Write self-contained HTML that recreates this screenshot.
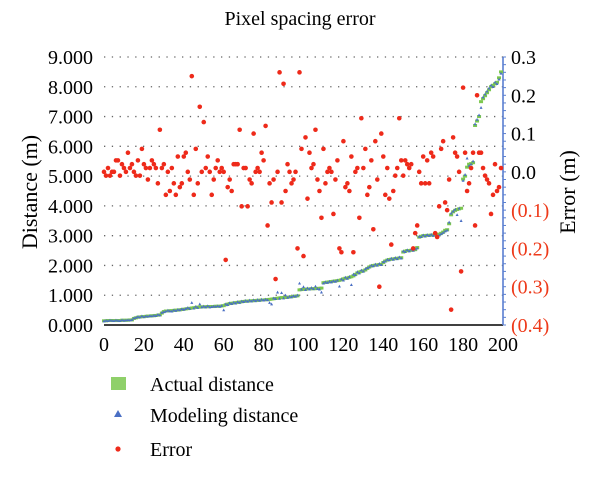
<!DOCTYPE html>
<html><head><meta charset="utf-8">
<style>
body{margin:0;background:#fff;}
svg text{font-family:"Liberation Serif",serif;}
</style></head>
<body>
<svg id="chart" width="600" height="478" viewBox="0 0 600 478" xmlns="http://www.w3.org/2000/svg">
<text x="300" y="25" font-size="20" text-anchor="middle">Pixel spacing error</text>
<text x="0" y="0" font-size="22" text-anchor="middle" transform="translate(37,192) rotate(-90)">Distance (m)</text>
<text x="0" y="0" font-size="22" text-anchor="middle" transform="translate(575,192) rotate(-90)">Error (m)</text>
<g id="grid"></g><g id="axes"></g><g id="marks"></g>
<g>
<rect x="111" y="377" width="15" height="13" fill="#8fd06a"/>
<text x="150" y="391" font-size="20">Actual distance</text>
<path d="M118 410 L122 417 L114 417 Z" fill="#4a6fc4"/>
<text x="150" y="422" font-size="20">Modeling distance</text>
<circle cx="118" cy="449" r="2.6" fill="#ee2a1a"/>
<text x="150" y="456" font-size="20">Error</text>
</g>
</svg>
<script>
const xTicks=[0,20,40,60,80,100,120,140,160,180,200];
const yTicks=[0,1,2,3,4,5,6,7,8,9];
const yTickLabels=["0.000","1.000","2.000","3.000","4.000","5.000","6.000","7.000","8.000","9.000"];
const y2Ticks=[0.3,0.2,0.1,0.0,-0.1,-0.2,-0.3,-0.4];
const y2TickLabels=["0.3","0.2","0.1","0.0","(0.1)","(0.2)","(0.3)","(0.4)"];
const actual=[0.14,0.14,0.15,0.15,0.15,0.15,0.15,0.15,0.15,0.16,0.16,0.16,0.16,0.17,0.17,
0.22,0.24,0.26,0.27,0.28,
0.28,0.29,0.30,0.30,0.31,0.31,0.32,0.33,0.34,
0.40,0.45,0.47,0.47,0.48,0.48,
0.49,0.50,0.50,0.51,0.52,0.53,0.54,0.55,0.56,0.57,
0.58,0.59,0.60,0.60,0.61,0.61,0.61,0.62,0.62,0.62,0.62,0.63,0.63,0.63,0.64,
0.65,0.68,0.70,0.72,0.73,0.74,0.75,0.76,0.77,0.78,
0.79,0.80,0.80,0.81,0.81,0.82,0.82,0.83,0.83,0.84,0.84,0.85,0.85,0.86,0.87,0.88,0.89,0.90,0.91,0.92,
0.92,0.93,0.93,0.94,0.95,0.96,0.97,0.98,
1.18,1.19,1.20,1.20,1.21,1.21,1.22,1.22,1.22,1.23,1.23,1.24,
1.42,1.43,1.44,1.45,1.46,1.47,1.48,1.49,1.50,1.52,
1.55,1.57,1.58,1.60,1.62,1.65,1.70,1.75,1.78,1.80,
1.82,1.85,1.90,1.95,1.98,2.00,2.01,2.02,2.03,2.04,
2.10,2.15,2.18,2.20,2.21,2.22,2.23,2.24,2.25,2.26,
2.45,2.48,2.50,2.50,2.51,2.52,2.53,2.60,
2.95,2.98,3.00,3.00,3.01,3.01,3.02,3.02,3.03,3.04,3.05,3.08,3.12,3.18,
3.20,3.40,3.70,3.80,3.85,
3.88,3.90,3.92,
4.90,5.00,5.30,5.40,
5.42,5.45,6.70,6.85,
7.00,7.50,7.60,7.70,7.80,7.90,
8.00,8.05,8.10,8.15,8.30,8.50];
const modeling=[0.13,0.15,0.14,0.16,0.15,0.14,0.16,0.15,0.14,0.17,0.15,0.16,0.17,0.16,0.18,
0.23,0.25,0.28,0.26,0.30,
0.27,0.30,0.29,0.31,0.30,0.32,0.31,0.35,0.33,
0.42,0.44,0.46,0.49,0.47,0.46,
0.50,0.48,0.52,0.50,0.54,0.52,0.55,0.58,0.55,0.75,
0.56,0.62,0.58,0.70,0.60,0.63,0.60,0.64,0.60,0.61,0.63,0.62,0.64,0.62,0.65,
0.50,0.70,0.68,0.74,0.71,0.76,0.73,0.78,0.75,0.80,
0.78,0.82,0.79,0.83,0.80,0.84,0.81,0.85,0.82,0.86,0.83,0.86,0.84,0.75,0.70,0.90,0.88,1.10,0.89,1.08,
0.90,1.00,0.92,0.96,0.94,0.98,0.96,1.00,
1.40,1.20,1.28,1.18,1.24,1.20,1.25,1.21,1.30,1.22,1.20,1.10,
1.40,1.44,1.42,1.46,1.44,1.48,1.46,1.50,1.30,1.54,
1.50,1.60,1.56,1.62,1.35,1.70,1.68,1.78,1.74,1.84,
1.80,1.88,1.92,1.94,2.00,1.98,2.04,2.00,2.06,2.02,
2.12,2.14,2.20,2.18,2.24,2.20,2.26,2.22,2.28,2.24,
2.48,2.46,2.52,2.48,2.54,2.50,2.55,2.58,
2.97,2.96,3.02,2.98,3.03,3.00,3.04,3.00,3.05,2.95,3.02,3.06,3.10,3.15,
3.18,3.45,3.75,3.82,3.88,
3.70,3.92,3.50,
4.85,5.05,5.60,5.35,
5.40,5.50,6.75,6.90,
7.05,7.30,7.65,7.75,7.85,7.95,
8.05,8.00,8.15,8.10,8.25,8.45];
const errors=[0.00,-0.01,0.01,-0.01,0.00,0.00,0.03,0.03,-0.01,0.02,0.01,0.00,0.05,0.01,0.02,0.00,-0.01,0.03,-0.01,0.06,
0.02,0.01,-0.02,0.01,0.03,0.02,0.01,-0.03,0.11,0.01,0.02,-0.06,0.00,-0.05,0.01,-0.03,-0.06,0.04,-0.04,-0.03,
0.04,0.05,0.00,-0.02,0.25,-0.06,0.06,-0.03,0.17,0.00,0.13,0.01,0.04,0.00,-0.06,-0.02,0.01,0.03,0.00,0.01,
0.00,-0.23,-0.04,-0.02,-0.05,0.02,0.02,0.02,0.11,-0.09,0.01,0.01,-0.09,-0.02,-0.03,0.10,0.00,0.01,0.00,0.05,
0.03,0.12,-0.14,-0.03,-0.08,-0.02,-0.28,0.00,0.26,-0.08,0.23,-0.05,0.02,0.00,-0.03,-0.02,0.00,-0.20,0.26,0.06,
-0.22,0.09,-0.07,0.05,0.01,0.02,0.11,-0.02,-0.05,-0.12,0.06,-0.03,0.00,0.01,0.00,-0.11,-0.02,0.03,-0.20,-0.21,
0.08,-0.04,-0.03,-0.05,0.04,-0.21,0.00,0.01,-0.12,0.14,0.01,0.06,-0.06,-0.04,0.03,-0.15,0.08,-0.02,-0.30,0.10,
0.04,-0.06,0.01,-0.07,-0.19,-0.05,-0.01,0.01,0.14,0.03,-0.01,0.03,0.02,0.01,0.02,-0.20,-0.16,-0.14,0.00,-0.03,
0.04,-0.03,0.03,-0.03,0.05,0.04,-0.16,-0.17,-0.09,0.06,0.08,-0.08,-0.10,-0.02,-0.36,0.09,0.05,0.04,0.00,-0.26,
0.22,0.05,-0.05,-0.03,0.01,0.05,-0.14,0.20,0.05,0.05,0.01,-0.01,-0.02,-0.03,-0.11,-0.06,0.02,-0.05,-0.04,0.01];

const NS="http://www.w3.org/2000/svg";
const X0=104,X1=503,YB=325,YT=57;
function xs(v){return X0+(v/200)*(X1-X0);}
function ys(v){return YB-(v/9)*(YB-YT);}
function ys2(v){return YB-((v+0.4)/0.7)*(YB-YT);}
function mk(tag,attrs,parent){const e=document.createElementNS(NS,tag);for(const k in attrs)e.setAttribute(k,attrs[k]);parent.appendChild(e);return e;}
const grid=document.getElementById('grid'),axes=document.getElementById('axes'),marks=document.getElementById('marks');
yTicks.forEach((t,i)=>{
  if(t>0){const g=mk('line',{x1:X0,x2:X1,y1:ys(t),y2:ys(t),stroke:'#666','stroke-width':1.3,'stroke-dasharray':'1.3 6.5'},grid);
  
  }
  const l=mk('text',{x:93,y:ys(t)+7,'font-size':20,'text-anchor':'end'},axes);l.textContent=yTickLabels[i];
  
  
});
y2Ticks.forEach((t,i)=>{
  const l=mk('text',{x:511,y:ys2(t)+7,'font-size':20,fill:t<0?'#ee3a1a':'#000'},axes);l.textContent=y2TickLabels[i];
  
  
});
xTicks.forEach(t=>{
  const l=mk('text',{x:xs(t),y:351,'font-size':20,'text-anchor':'middle'},axes);l.textContent=t;
  
  
});
const xa=mk('line',{x1:X0,x2:X1,y1:YB,y2:YB,stroke:'#000','stroke-width':1.5},axes);


const ya=mk('line',{x1:X1,x2:X1,y1:YT,y2:YB,stroke:'#5a7fd0','stroke-width':1.6},axes);


for(let v=-0.4;v<=0.3001;v+=0.02){const tk=mk('line',{x1:X1,x2:X1+3,y1:ys2(v),y2:ys2(v),stroke:'#5a7fd0','stroke-width':1},axes);
  
  }
actual.forEach((v,i)=>{
  const r=mk('rect',{x:xs(i)-2,y:ys(v)-1.5,width:4,height:3,fill:'#7cc84e'},marks);
  
  
});
modeling.forEach((v,i)=>{
  const x=xs(i),y=ys(v);
  const p=mk('path',{d:`M${x} ${y-1.6} L${x+1.5} ${y+1.2} L${x-1.5} ${y+1.2} Z`,fill:'#4a6fc4'},marks);
  
  
});
errors.forEach((v,i)=>{
  const c=mk('circle',{cx:xs(i),cy:ys2(v),r:2.3,fill:'#ee2a1a'},marks);
  
  
});
</script>
</body></html>
